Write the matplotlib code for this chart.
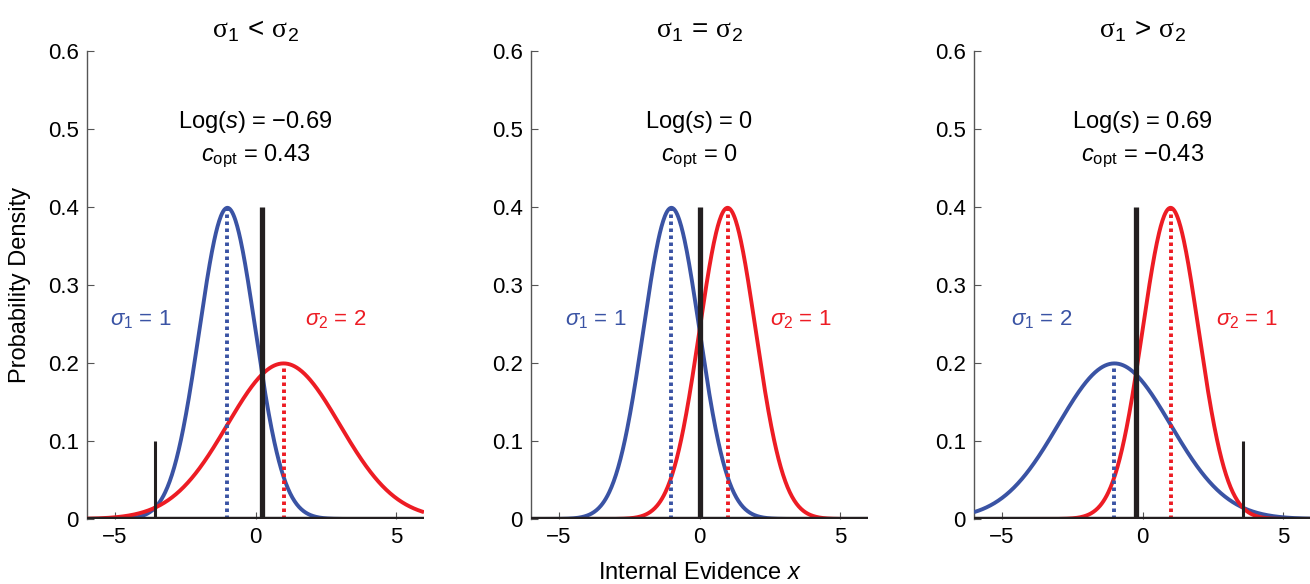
import numpy as np
import matplotlib
matplotlib.use("Agg")
import matplotlib.pyplot as plt

plt.rcParams['font.family'] = ['Liberation Sans Narrow', 'Liberation Sans', 'DejaVu Sans']
plt.rcParams['mathtext.fontset'] = 'custom'
plt.rcParams['mathtext.rm'] = 'Liberation Sans'
plt.rcParams['mathtext.it'] = 'Liberation Sans:italic'
plt.rcParams['mathtext.sf'] = 'Liberation Serif'

# data per panel
titles = [r'$\mathsf{σ}_1\,<\,\mathsf{σ}_2$', r'$\mathsf{σ}_1\,=\,\mathsf{σ}_2$',
          r'$\mathsf{σ}_1\,>\,\mathsf{σ}_2$']
mu1 = [-1, -1, -1]
mu2 = [1, 1, 1]
sigma1 = [1, 1, 2]
sigma2 = [2, 1, 1]
log_s = ['\u22120.69', '0', '0.69']
c_opt = ['0.43', '0', '\u22120.43']
crit_main = [0.24, 0.0, -0.24]        # thick criterion line (height 0.4)
crit_second = [-3.57, None, 3.57]     # thin second crossing (height 0.1)
lab1_x = [-4.1, -3.7, -3.6]
lab2_x = [2.85, 3.6, 3.7]
lab_y = 0.255

BLUE = '#3A53A4'
RED = '#ED1C24'

fig = plt.figure(figsize=(13.1, 5.84), dpi=100)
lefts = [87 / 1310, 531 / 1310, 974 / 1310]
width = 337 / 1310
bottom = 1 - 519 / 584
height = (519 - 51) / 584

x = np.linspace(-6, 6, 600)

def npdf(x, m, s):
    return np.exp(-0.5 * ((x - m) / s) ** 2) / (s * np.sqrt(2 * np.pi))

for i in range(3):
    ax = fig.add_axes([lefts[i], bottom, width, height])
    y1 = npdf(x, mu1[i], sigma1[i])
    y2 = npdf(x, mu2[i], sigma2[i])
    ax.plot(x, y1, color=BLUE, lw=2.8, solid_capstyle='butt', zorder=3)
    ax.plot(x, y2, color=RED, lw=2.8, solid_capstyle='butt', zorder=3)
    ax.plot([mu1[i], mu1[i]], [0, npdf(mu1[i], mu1[i], sigma1[i])], color=BLUE,
            lw=2.8, ls=(0, (0.9, 0.9)), zorder=4)
    ax.plot([mu2[i], mu2[i]], [0, npdf(mu2[i], mu2[i], sigma2[i])], color=RED,
            lw=2.8, ls=(0, (0.9, 0.9)), zorder=4)
    ax.plot([-6, 6], [0, 0], color='#231F20', lw=3.2, zorder=5, solid_capstyle='butt')
    ax.plot([crit_main[i], crit_main[i]], [0, 0.4], color='#231F20', lw=3.8, zorder=6,
            solid_capstyle='butt')
    if crit_second[i] is not None:
        ax.plot([crit_second[i], crit_second[i]], [0, 0.1], color='#231F20', lw=2.2,
                zorder=6, solid_capstyle='butt')

    ax.set_xlim(-6, 6)
    ax.set_ylim(0, 0.6)
    ax.set_xticks([-5, 0, 5])
    ax.set_xticklabels(['\u22125', '0', '5'])
    ax.set_yticks([0, 0.1, 0.2, 0.3, 0.4, 0.5, 0.6])
    ax.set_yticklabels(['0', '0.1', '0.2', '0.3', '0.4', '0.5', '0.6'])
    for s in ['top', 'right', 'bottom']:
        ax.spines[s].set_visible(False)
    ax.spines['left'].set_color('#555555')
    ax.spines['left'].set_linewidth(1.0)
    ax.tick_params(direction='in', length=5, width=0.8, color='#555555',
                   labelsize=16, pad=6)
    ax.patch.set_alpha(0)

    ax.set_title(titles[i], fontsize=20, pad=10)
    ax.text(0, 0.509, r'Log($\it{s}$) = ' + log_s[i], ha='center', va='center', fontsize=17)
    ax.text(0, 0.465, r'$\it{c}_{\rm opt}$ = ' + c_opt[i], ha='center', va='center', fontsize=17)
    ax.text(lab1_x[i], lab_y, r'$\it{σ}_1$ = ' + str(sigma1[i]), color=BLUE,
            ha='center', va='center', fontsize=16)
    ax.text(lab2_x[i], lab_y, r'$\it{σ}_2$ = ' + str(sigma2[i]), color=RED,
            ha='center', va='center', fontsize=16)

    if i == 0:
        ax.set_ylabel('Probability Density', fontsize=17, labelpad=12)
    if i == 1:
        ax.set_xlabel(r'Internal Evidence $\it{x}$', fontsize=17, labelpad=10)

fig.savefig('out.png', dpi=100)
